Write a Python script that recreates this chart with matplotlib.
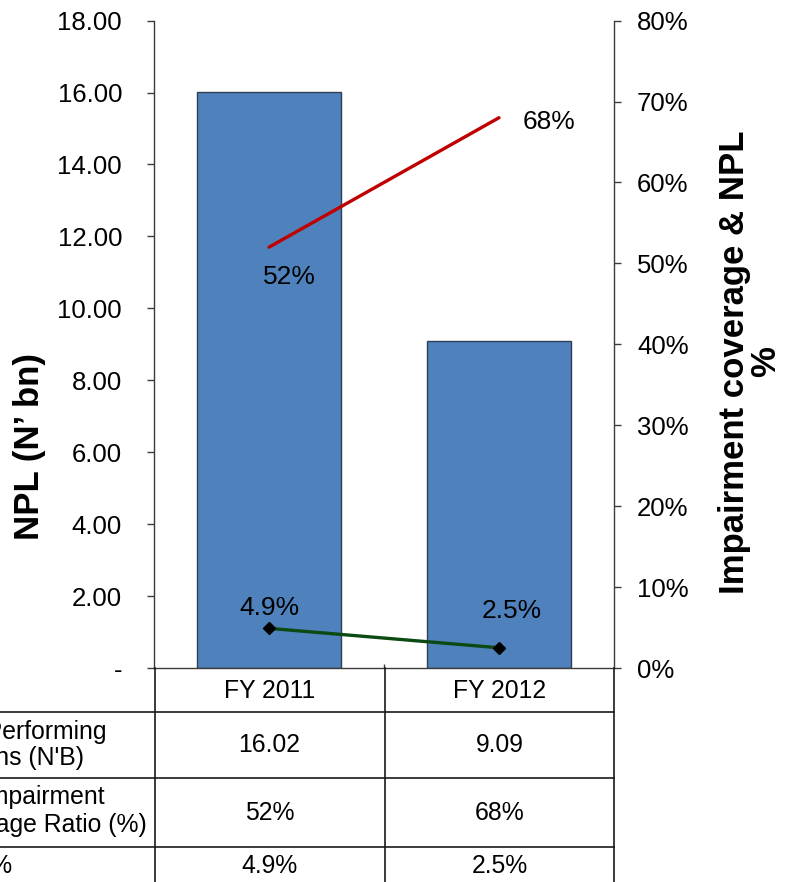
import matplotlib
matplotlib.use("Agg")
import matplotlib.pyplot as plt
from matplotlib.lines import Line2D
from matplotlib import font_manager

# ---- data -------------------------------------------------------------
categories = ["FY 2011", "FY 2012"]
npl_bn = [16.02, 9.09]            # non-performing loans, N' bn
coverage_pct = [52, 68]           # impairment coverage ratio, %
npl_ratio_pct = [4.9, 2.5]        # NPL ratio, %
left_ticks = [0, 2, 4, 6, 8, 10, 12, 14, 16, 18]
right_ticks = [0, 10, 20, 30, 40, 50, 60, 70, 80]
row_labels = [["Non-Performing", "Loans (N'B)"],
              ["Impairment", "Coverage Ratio (%)"],
              ["NPL %"]]
left_title = "NPL (N\u2019 bn)"
right_title = "Impairment coverage & NPL\n%"

# ---- styling ----------------------------------------------------------
W, H = 786, 882
plt.rcParams["font.family"] = ["Liberation Sans", "DejaVu Sans"]
names = {f.name for f in font_manager.fontManager.ttflist}
narrow = "Liberation Sans Narrow" in names
title_family = ["Liberation Sans Narrow", "Liberation Sans"] if narrow else ["Liberation Sans"]
title_size = 28 if narrow else 25
TICK_FS = 18.5
LABEL_FS = 19
TABLE_FS = 17.8
BAR = "#4F81BD"
BAR_EDGE = "#2E3F55"
AXC = "#3C3C3C"

fig = plt.figure(figsize=(W / 100, H / 100), dpi=100)

def fx(px):
    return px / W

def fy(py):
    return 1 - py / H

ax_l, ax_r, ax_t, ax_b = 154, 614, 20.6, 668
ax = fig.add_axes([fx(ax_l), fy(ax_b), fx(ax_r - ax_l), (ax_b - ax_t) / H])
x = list(range(len(categories)))
ax.bar(x, npl_bn, width=0.63, color=BAR, edgecolor=BAR_EDGE, linewidth=1.0, zorder=2)
ax.set_xlim(-0.5, len(categories) - 0.5)
ax.set_ylim(left_ticks[0], left_ticks[-1])
ax.set_yticks(left_ticks)
ax.set_yticklabels(["-" if v == 0 else f"{v:.2f}" for v in left_ticks])
ax.tick_params(axis="y", direction="out", length=5, width=1.0, color=AXC,
               labelsize=TICK_FS, pad=18)
ax.set_xticks([0.5])
ax.set_xticklabels([""])
ax.tick_params(axis="x", direction="in", length=3, width=1.0, color=AXC)
for s in ("top", "right"):
    ax.spines[s].set_visible(False)
for s in ("left", "bottom"):
    ax.spines[s].set_color(AXC)
    ax.spines[s].set_linewidth(1.0)

ax2 = ax.twinx()
ax2.set_ylim(right_ticks[0], right_ticks[-1])
ax2.set_yticks(right_ticks)
ax2.set_yticklabels([f"{v}%" for v in right_ticks])
ax2.tick_params(axis="y", direction="out", length=5, width=1.0, color=AXC,
                labelsize=TICK_FS, pad=11.5)
for s in ("top", "left", "bottom"):
    ax2.spines[s].set_visible(False)
ax2.spines["right"].set_color(AXC)
ax2.spines["right"].set_linewidth(1.0)

ax2.plot(x, coverage_pct, color="#C00000", lw=2.4, solid_capstyle="round", zorder=3)
ax2.plot(x, npl_ratio_pct, color="#0B4A12", lw=2.4, marker="D", ms=6.5,
         mfc="black", mec="black", zorder=3)

# data labels
ax2.annotate(f"{coverage_pct[0]}%", (x[0], coverage_pct[0]), xytext=(15, -21.5),
             textcoords="offset points", ha="center", va="center", fontsize=LABEL_FS)
ax2.annotate(f"{coverage_pct[1]}%", (x[1], coverage_pct[1]), xytext=(17, -3),
             textcoords="offset points", ha="left", va="center", fontsize=LABEL_FS)
ax2.annotate(f"{npl_ratio_pct[0]}%", (x[0], npl_ratio_pct[0]), xytext=(0.5, 15),
             textcoords="offset points", ha="center", va="center", fontsize=LABEL_FS)
ax2.annotate(f"{npl_ratio_pct[1]}%", (x[1], npl_ratio_pct[1]), xytext=(9.4, 26.6),
             textcoords="offset points", ha="center", va="center", fontsize=LABEL_FS)

# axis titles
fig.text(fx(30), fy(446), left_title, rotation=90, ha="center", va="center",
         fontsize=title_size, fontweight="bold", family=title_family)
fig.text(fx(750), fy(362), right_title, rotation=90, ha="center", va="center",
         multialignment="center", fontsize=title_size, fontweight="bold",
         family=title_family, linespacing=0.95)

# ---- data table ---------------------------------------------------------
LC = "#1A1A1A"
col_edges = [154.5, 384.5, 613.5]
row_edges = [712, 778, 847]
for cx in col_edges:
    fig.add_artist(Line2D([fx(cx), fx(cx)], [fy(668), fy(H + 5)], color=LC, lw=1.2,
                          transform=fig.transFigure))
for ry in row_edges:
    fig.add_artist(Line2D([fx(-5), fx(614)], [fy(ry), fy(ry)], color=LC, lw=1.2,
                          transform=fig.transFigure))

col_centers = [269.5, 499.5]
header_y = 691
row_y = [745, 813, 866]
table_rows = [[f"{v:.2f}" for v in npl_bn],
              [f"{v}%" for v in coverage_pct],
              [f"{v}%" for v in npl_ratio_pct]]
for c, name in enumerate(categories):
    fig.text(fx(col_centers[c]), fy(header_y), name, ha="center", va="center",
             fontsize=TABLE_FS)
    for r, row in enumerate(table_rows):
        fig.text(fx(col_centers[c]), fy(row_y[r]), row[c], ha="center", va="center",
                 fontsize=TABLE_FS)

# row headers (the label column runs off the left edge of the figure)
label_right = [[107, 84], [105, 147], [12]]
label_y = [[732, 758], [797, 825], [866]]
for r, lines in enumerate(row_labels):
    for k, line in enumerate(lines):
        fig.text(fx(label_right[r][k]), fy(label_y[r][k]), line, ha="right",
                 va="center", fontsize=TABLE_FS)

fig.savefig("out.png", dpi=100)
